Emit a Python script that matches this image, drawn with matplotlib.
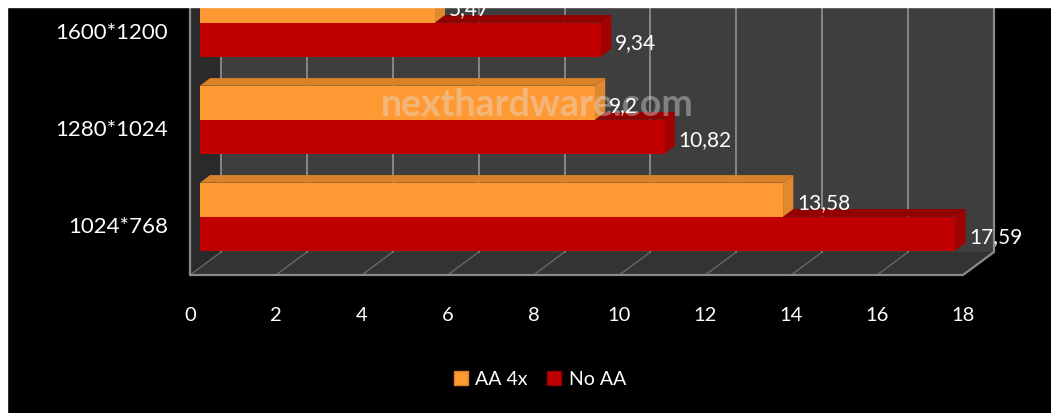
import matplotlib.pyplot as plt
from matplotlib.patches import Polygon, Rectangle, Patch

plt.rcParams['font.family'] = ['Lato', 'DejaVu Sans']

# data
categories = ['1024*768', '1280*1024', '1600*1200']
aa4x = [13.58, 9.2, 5.47]
no_aa = [17.59, 10.82, 9.34]
series_names = ['AA 4x', 'No AA']
xticks = list(range(0, 19, 2))

W, H = 1051, 414
fig = plt.figure(figsize=(W / 100, H / 100), dpi=100, facecolor='black')

# axes: front plane of the 3d box, 0..18 maps to px 190..963
x0_px, x18_px, xr_px = 190, 963, 997
floor_px, top_px = 276, 8
ax = fig.add_axes([x0_px / W, (H - floor_px) / H, (xr_px - x0_px) / W, (floor_px - top_px) / H])
px_x = 18 / (x18_px - x0_px)
ymin, ymax = -0.526, 2.237
px_y = (ymax - ymin) / (floor_px - top_px)
ax.set_xlim(0, (xr_px - x0_px) * px_x)
ax.set_ylim(ymin, ymax)
ax.set_facecolor('black')
for s in ax.spines.values():
    s.set_visible(False)

# depth vector of the box
Dx, Dy = 31 * px_x, 23 * px_y
top = ymax + 1

# walls and floor
ax.add_patch(Polygon([(Dx, ymin + Dy), (18 + Dx, ymin + Dy), (18 + Dx, top), (Dx, top)],
                     facecolor='#3e3e3e', edgecolor='none', zorder=1))
ax.add_patch(Polygon([(0, ymin), (Dx, ymin + Dy), (Dx, top), (0, top)],
                     facecolor='#2a2a2a', edgecolor='none', zorder=1))
ax.add_patch(Polygon([(0, ymin), (18, ymin), (18 + Dx, ymin + Dy), (Dx, ymin + Dy)],
                     facecolor='#333333', edgecolor='none', zorder=1))
for v in xticks:
    ax.plot([v + Dx, v + Dx], [ymin + Dy, top], color='#8c8c8c', lw=1.3, zorder=2)
    ax.plot([v, v + Dx], [ymin, ymin + Dy], color='#6c6c6c', lw=0.9, zorder=2)
ax.plot([0, 0, 18, 18 + Dx, 18 + Dx], [top, ymin, ymin, ymin + Dy, top],
        color='#8a8a8a', lw=1.6, zorder=3, clip_on=False)

# bars with faux 3d faces
h = 0.35
d0, d1 = 0.32, 0.65
colors = {'AA 4x': ('#ff9933', '#d98229', '#e0892e'),
          'No AA': ('#c00000', '#930000', '#a30000')}
for name, vals, sign in [('No AA', no_aa, -1), ('AA 4x', aa4x, 1)]:
    front, topc, side = colors[name]
    for i, v in enumerate(vals):
        y0 = i if sign > 0 else i - h
        ox, oy = d0 * Dx, d0 * Dy
        bx, by = d1 * Dx, d1 * Dy
        ax.barh(y0 + h / 2 + oy, v, height=h, left=ox, color=front, zorder=4)
        ax.add_patch(Polygon([(ox, y0 + h + oy), (v + ox, y0 + h + oy),
                              (v + bx, y0 + h + by), (bx, y0 + h + by)],
                             facecolor=topc, edgecolor='none', zorder=4))
        ax.add_patch(Polygon([(v + ox, y0 + oy), (v + bx, y0 + by),
                              (v + bx, y0 + h + by), (v + ox, y0 + h + oy)],
                             facecolor=side, edgecolor='none', zorder=4))
        ax.annotate(str(v).replace('.', ','), xy=(v + ox, y0 + h / 2 + oy),
                    xytext=(14, -2), textcoords='offset pixels', annotation_clip=False,
                    ha='left', va='center', color='white', fontsize=15, zorder=6)

# axis labels
ax.set_xticks(xticks)
ax.set_xticklabels([str(t) for t in xticks])
ax.set_yticks(range(len(categories)))
ax.set_yticklabels(categories)
ax.tick_params(axis='x', length=0, pad=22, colors='white', labelsize=14.5)
ax.tick_params(axis='y', length=0, pad=16, colors='white', labelsize=16)

# watermark
ax.text((537 - x0_px) * px_x, (225 - 105) / 97, 'nexthardware.com',
        ha='center', va='center', fontsize=27, fontweight='bold',
        color='#e0e0e0', alpha=0.42, zorder=5)

# legend
handles = [Patch(facecolor=colors[n][0], edgecolor=colors[n][1], label=n) for n in series_names]
fig.legend(handles=handles, loc='center', bbox_to_anchor=(540 / W, 1 - 380 / H), ncol=2,
           frameon=False, fontsize=14, labelcolor='white', handlelength=0.7, handleheight=0.7,
           handletextpad=0.4, columnspacing=1.0)

# page border
fig.add_artist(Rectangle((0, 0), 7 / W, 1, transform=fig.transFigure, color='white', zorder=20))
fig.add_artist(Rectangle((0, 1 - 8 / H), 1, 8 / H, transform=fig.transFigure, color='white', zorder=20))

fig.savefig('out.png', dpi=100, facecolor='black')
